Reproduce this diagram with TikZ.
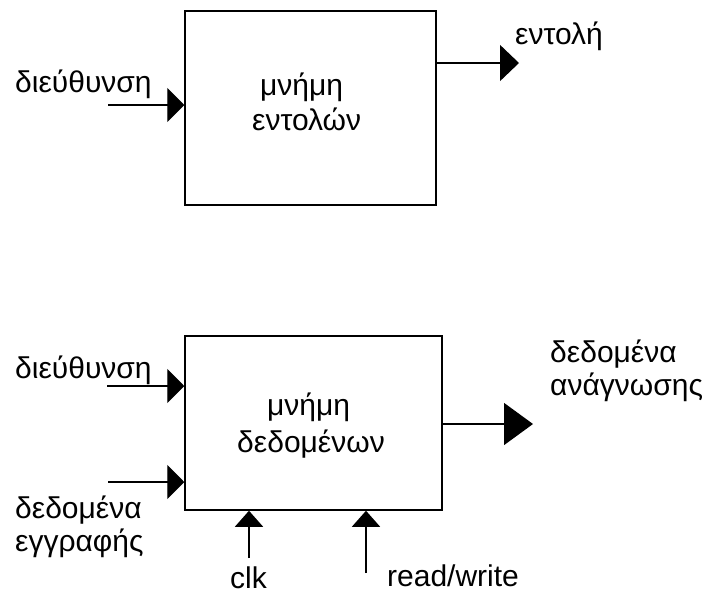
\documentclass[tikz,border=0pt]{standalone}
\usepackage{fontspec}
\setmainfont{Liberation Sans}
\usetikzlibrary{arrows.meta}
\tikzset{
  memb/.style={draw, line width=1.5pt, inner sep=0pt},
  lbl/.style={anchor=base west, inner sep=0pt, font=\fontsize{30}{34}\selectfont},
  sig/.style={line width=1.4pt},
  tipin/.style={sig, -{Triangle[length=17pt,width=34pt]}},
  tipsmall/.style={sig, -{Triangle[length=19pt,width=36pt]}},
  tipbig/.style={sig, -{Triangle[length=29pt,width=42pt]}},
  tipup/.style={sig, -{Triangle[length=16pt,width=28pt]}}
}
\begin{document}
\begin{tikzpicture}[x=1pt,y=-1pt]
\useasboundingbox (0,0) rectangle (709,595);
% top memory
\node[memb, minimum width=251pt, minimum height=194pt] (imem) at (310.5,108) {};
\node[lbl] (imt1) at (260,95) {μνήμη};
\node[lbl] (imt2) at (252,130) {εντολών};
\coordinate (iaddr) at (108,105);
\coordinate (iout) at (519,63);
\node[lbl] (iaddrl) at (15,92) {διεύθυνση};
\node[lbl] (ioutl) at (515,44) {εντολή};
\draw[tipin] (iaddr) -- (imem.west |- iaddr);
\draw[tipsmall] (imem.east |- iout) -- (iout);
% bottom memory
\node[memb, minimum width=257pt, minimum height=174pt] (dmem) at (313.5,423) {};
\node[lbl] (dmt1) at (267,415) {μνήμη};
\node[lbl] (dmt2) at (237,452) {δεδομένων};
\coordinate (daddr) at (107,386);
\coordinate (dwr) at (108,482);
\coordinate (dout) at (533,424);
\coordinate (dclk) at (249,558);
\coordinate (drw) at (366,573);
\node[lbl] (daddrl) at (15,378) {διεύθυνση};
\node[lbl] (dwrl1) at (15,518) {δεδομένα};
\node[lbl] (dwrl2) at (15,551) {εγγραφής};
\node[lbl] (doutl1) at (550,362) {δεδομένα};
\node[lbl] (doutl2) at (550,395) {ανάγνωσης};
\node[lbl] (dclkl) at (230,588) {clk};
\node[lbl] (drwl) at (387,586) {read/write};
\draw[tipin] (daddr) -- (dmem.west |- daddr);
\draw[tipin] (dwr) -- (dmem.west |- dwr);
\draw[tipbig] (dmem.east |- dout) -- (dout);
\draw[tipup] (dclk) -- (dclk |- dmem.south);
\draw[tipup] (drw) -- (drw |- dmem.south);
\end{tikzpicture}
\end{document}
